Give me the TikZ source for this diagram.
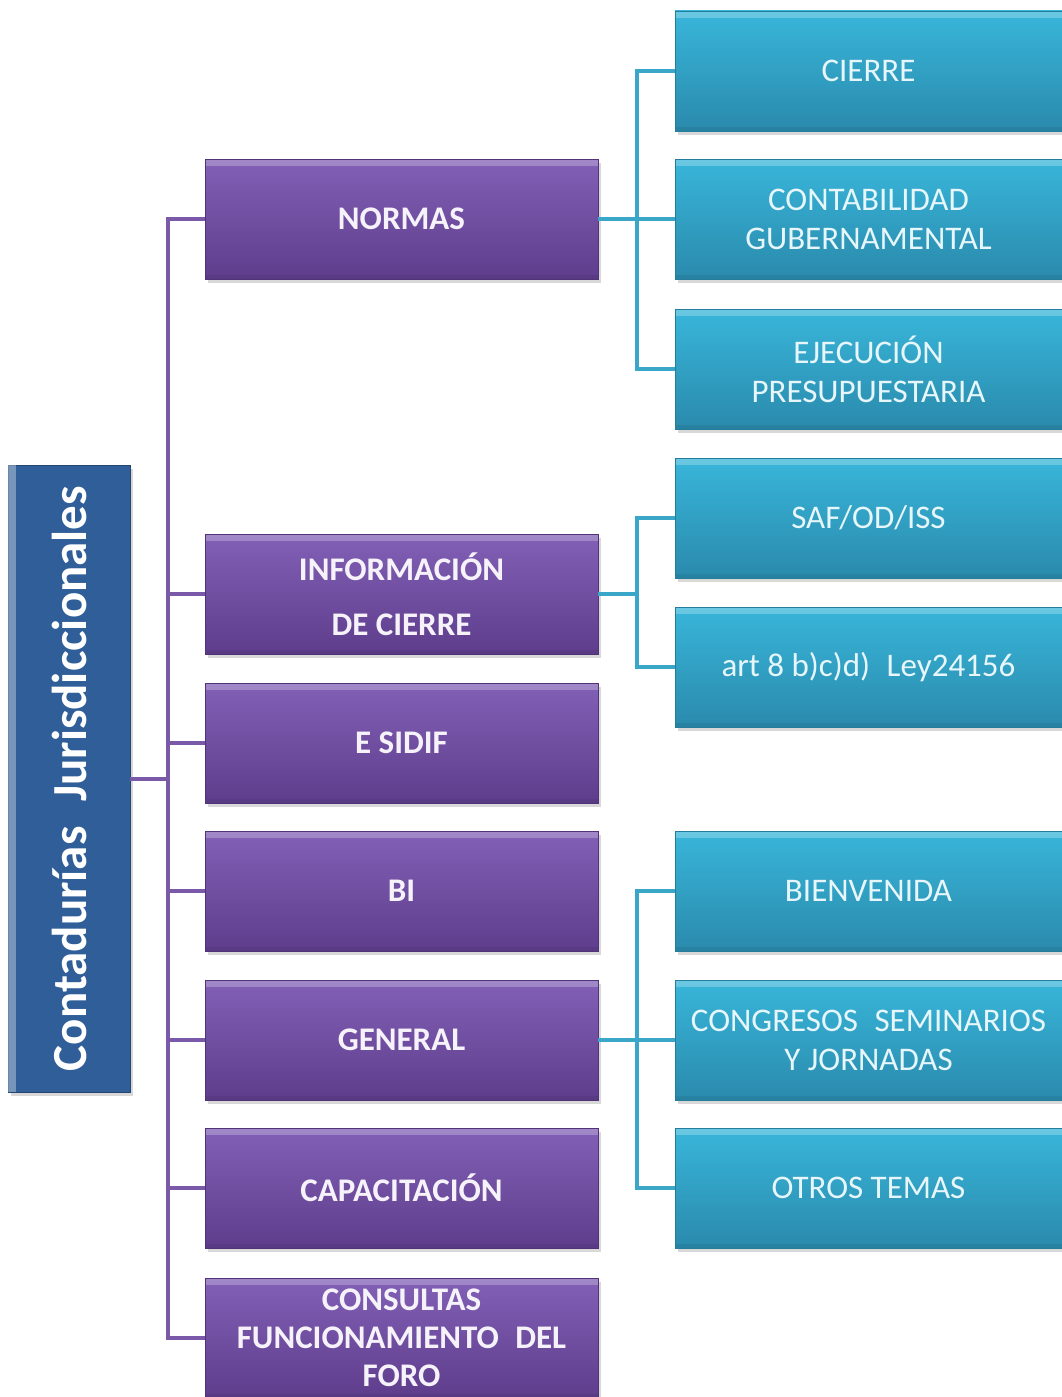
\documentclass[tikz,border=0pt]{standalone}
\usepackage{fontspec}
\setmainfont{Carlito}
\usetikzlibrary{shadows}
\definecolor{purpTop}{HTML}{8260B6}
\definecolor{purpBot}{HTML}{5E3D8C}
\definecolor{cyanTop}{HTML}{38B6DA}
\definecolor{cyanBot}{HTML}{2A8AAC}
\definecolor{rootFill}{HTML}{2F5E98}
\definecolor{pLine}{HTML}{7A59A8}
\definecolor{cLine}{HTML}{3AA6C8}
\definecolor{cText}{HTML}{E6F6FA}
\definecolor{pText}{HTML}{F6F2FA}
\tikzset{
  boxbase/.style={rectangle, inner sep=4pt, align=center,
    drop shadow={shadow xshift=3pt, shadow yshift=-4pt, opacity=0.3},
    path picture={\fill[white,opacity=0.25] (path picture bounding box.north west) rectangle ([yshift=-7pt]path picture bounding box.north east);
                  \fill[black,opacity=0.06] (path picture bounding box.south west) rectangle ([yshift=4pt]path picture bounding box.south east);}},
  purpbox/.style={boxbase, top color=purpTop, bottom color=purpBot, draw=purpBot!85!black, line width=0.5pt,
    minimum width=393pt, minimum height=120pt, text=pText,
    font=\bfseries\fontsize{33}{38}\selectfont},
  cyanbox/.style={boxbase, top color=cyanTop, bottom color=cyanBot, draw=cyanBot!90!black, line width=0.5pt,
    minimum width=387pt, minimum height=120pt, text=cText,
    font=\fontsize{33}{39}\selectfont},
  rootbox/.style={rectangle, fill=rootFill, draw=rootFill!75!black, line width=0.5pt,
    minimum width=627pt, minimum height=122pt, rotate=90, text=white,
    drop shadow={shadow xshift=3pt, shadow yshift=-4pt, opacity=0.3},
    font=\bfseries\fontsize{49}{54}\selectfont},
  pline/.style={draw=pLine, line width=4pt},
  cline/.style={draw=cLine, line width=4pt},
  glow/.style={fill=white, opacity=0.35},
}
\begin{document}
\begin{tikzpicture}[x=1pt,y=-1pt]
\useasboundingbox (0,0) rectangle (1062,1397);
\fill[white] (0,0) rectangle (1062,1397);
\coordinate (pt) at (168,0);
\coordinate (ct) at (637,0);
\node[rootbox] (root) at (69,778.5) {Contadurías\enspace Jurisdiccionales};
\fill[glow] (root.north west) rectangle ([xshift=8pt]root.north east);
\node[purpbox] (normas) at (401.5,219) {NORMAS};
\node[purpbox] (info) at (401.5,594) {INFORMACIÓN\\[17pt]DE CIERRE};
\node[purpbox] (esidif) at (401.5,743) {E SIDIF};
\node[purpbox] (bi) at (401.5,891) {BI};
\node[purpbox] (general) at (401.5,1040) {GENERAL};
\node[purpbox] (capac) at (401.5,1188) {CAPACITACIÓN};
\node[purpbox] (consul) at (401.5,1338) {CONSULTAS\\FUNCIONAMIENTO\enspace DEL\\FORO};
\node[cyanbox] (cierre) at (868.5,71) {CIERRE};
\node[cyanbox] (conta) at (868.5,219) {CONTABILIDAD\\GUBERNAMENTAL};
\node[cyanbox] (ejec) at (868.5,369) {EJECUCIÓN\\PRESUPUESTARIA};
\node[cyanbox] (saf) at (868.5,518) {SAF/OD/ISS};
\node[cyanbox] (art) at (868.5,667) {art 8 b)c)d)\enspace Ley24156};
\node[cyanbox] (bienv) at (868.5,891) {BIENVENIDA};
\node[cyanbox] (congr) at (868.5,1040) {CONGRESOS\enspace SEMINARIOS\\Y JORNADAS};
\node[cyanbox] (otros) at (868.5,1188) {OTROS TEMAS};
\foreach \c in {normas,info,esidif,bi,general,capac,consul}
  \draw[pline] (root.south) -- (pt |- root.south) |- (\c.west);
\foreach \c in {cierre,conta,ejec}
  \draw[cline] (normas.east) -- (ct |- normas.east) |- (\c.west);
\foreach \c in {saf,art}
  \draw[cline] (info.east) -- (ct |- info.east) |- (\c.west);
\foreach \c in {bienv,congr,otros}
  \draw[cline] (general.east) -- (ct |- general.east) |- (\c.west);
\end{tikzpicture}
\end{document}
